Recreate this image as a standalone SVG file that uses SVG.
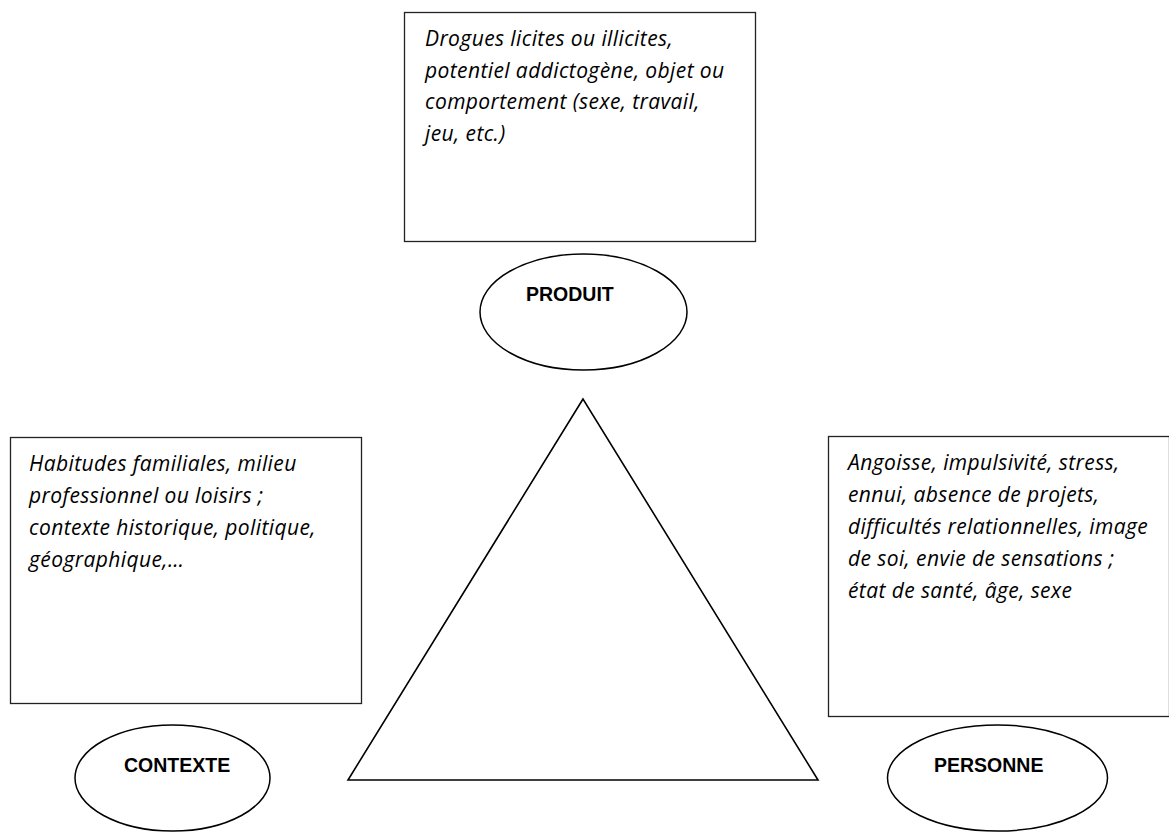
<svg xmlns="http://www.w3.org/2000/svg" width="1169" height="832" viewBox="0 0 1169 832">
<style>
.box{fill:#fff;stroke:#222;stroke-width:1.3}
.ell{fill:#fff;stroke:#000;stroke-width:1.5}
.tri{fill:none;stroke:#000;stroke-width:1.6;stroke-linejoin:miter}
.desc{font-family:"Open Sans","Liberation Sans",sans-serif;font-style:italic;font-size:21px;letter-spacing:0.4px;fill:#000}
.lab{font-family:"Liberation Sans",Arial,sans-serif;font-weight:bold;font-size:19.5px;fill:#000}
</style>
<rect width="1169" height="832" fill="#fff"/>
<g id="connectors">
<polygon class="tri" points="583,399 348,780 818,780"/>
</g>
<g id="box-produit">
<rect class="box" x="404.5" y="12.5" width="351" height="229"/>
<text class="desc" x="425" y="46">Drogues licites ou illicites,</text>
<text class="desc" x="425" y="78">potentiel addictogène, objet ou</text>
<text class="desc" x="425" y="109">comportement (sexe, travail,</text>
<text class="desc" x="425" y="141">jeu, etc.)</text>
</g>
<g id="node-produit">
<ellipse class="ell" cx="583.5" cy="312" rx="103.5" ry="58"/>
<text class="lab" x="526" y="301">PRODUIT</text>
</g>
<g id="box-contexte">
<rect class="box" x="10.5" y="437.5" width="351" height="266"/>
<text class="desc" x="29" y="471">Habitudes familiales, milieu</text>
<text class="desc" x="29" y="503">professionnel ou loisirs ;</text>
<text class="desc" x="29" y="535">contexte historique, politique,</text>
<text class="desc" x="29" y="567">géographique,…</text>
</g>
<g id="node-contexte">
<ellipse class="ell" cx="172.5" cy="778" rx="97.5" ry="53"/>
<text class="lab" x="124" y="772">CONTEXTE</text>
</g>
<g id="box-personne">
<rect class="box" x="828.5" y="436.5" width="341" height="280"/>
<text class="desc" x="848" y="470">Angoisse, impulsivité, stress,</text>
<text class="desc" x="848" y="502">ennui, absence de projets,</text>
<text class="desc" x="848" y="534">difficultés relationnelles, image</text>
<text class="desc" x="848" y="566">de soi, envie de sensations ;</text>
<text class="desc" x="848" y="598">état de santé, âge, sexe</text>
</g>
<g id="node-personne">
<ellipse class="ell" cx="997.5" cy="778" rx="110" ry="53"/>
<text class="lab" x="934" y="772">PERSONNE</text>
</g>
</svg>
